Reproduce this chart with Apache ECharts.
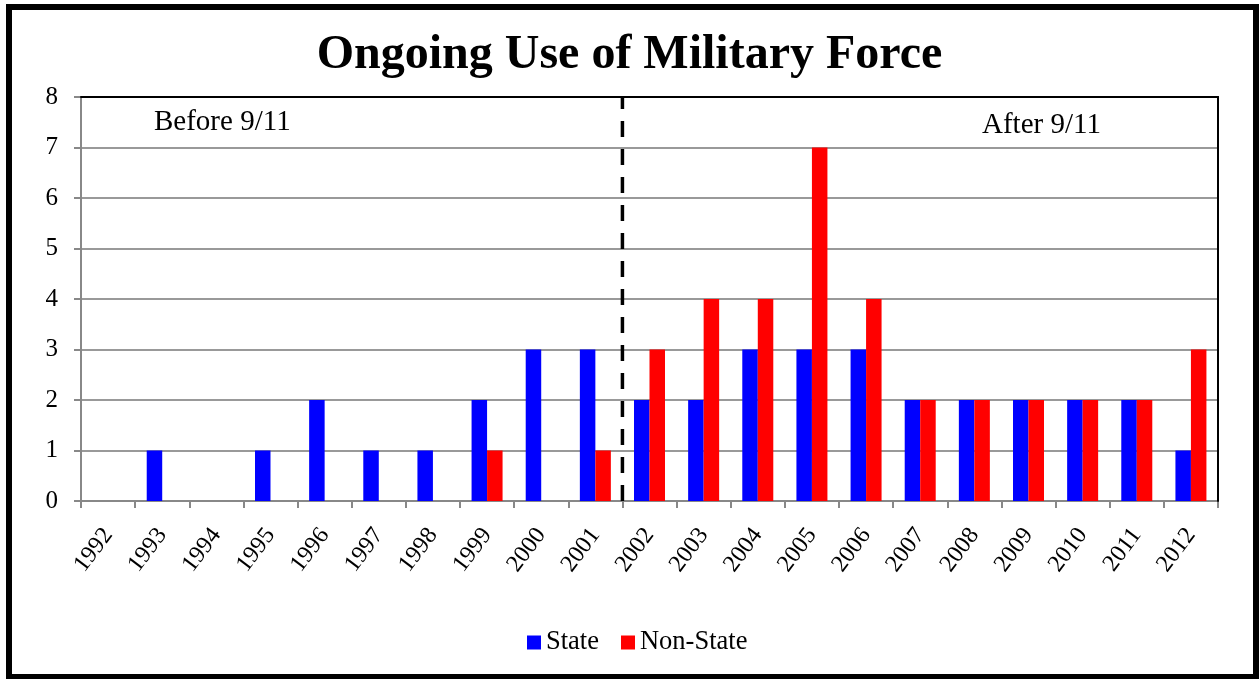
<!DOCTYPE html>
<html>
<head>
<meta charset="utf-8">
<script src="https://cdn.jsdelivr.net/npm/echarts@6/dist/echarts.min.js"></script>
<style>
html,body{margin:0;padding:0;background:#fff;}
#frame{position:absolute;left:6px;top:4px;width:1253px;height:675px;box-sizing:border-box;border:6px solid #000;border-bottom-width:5px;}
#chart{position:absolute;left:0;top:0;width:1259px;height:679px;}
</style>
</head>
<body>
<div id="frame"></div>
<div id="chart"></div>
<script>
const years = ['1992','1993','1994','1995','1996','1997','1998','1999','2000','2001','2002','2003','2004','2005','2006','2007','2008','2009','2010','2011','2012'];
const stateValues    = [0,1,0,1,2,1,1,2,3,3,2,2,3,3,3,2,2,2,2,2,1];
const nonStateValues = [0,0,0,0,0,0,0,1,0,1,3,4,4,7,4,2,2,2,2,2,3];
const yTicks = {min:0, max:8, interval:1};
const dividerIndex = 10; // boundary between 2001 and 2002
const titleText = 'Ongoing Use of Military Force';
const beforeLabel = 'Before 9/11';
const afterLabel = 'After 9/11';

const serif = '"Liberation Serif", "Times New Roman", serif';
const chart = echarts.init(document.getElementById('chart'));
chart.setOption({
  animation:false,
  title:{text:titleText,left:'center',top:27,textStyle:{fontFamily:serif,fontWeight:'bold',fontSize:48,color:'#000'}},
  legend:{data:['State','Non-State'],bottom:18,left:522,itemWidth:14,itemHeight:14,itemGap:22,icon:'rect',
    textStyle:{fontFamily:serif,fontSize:26.5,color:'#000'}},
  grid:{left:81,right:41,top:97,bottom:178,show:true,borderColor:'#000',borderWidth:1.5,backgroundColor:'#fff'},
  xAxis:[{type:'category',data:years,boundaryGap:true,
      axisLine:{lineStyle:{color:'#888',width:2}},
      axisTick:{show:true,length:7,lineStyle:{color:'#888',width:2},alignWithLabel:false},
      axisLabel:{rotate:53,margin:30,fontFamily:serif,fontSize:24,color:'#000',interval:0}},
    {type:'value',min:0,max:years.length,position:'top',z:5,
      axisLine:{show:true,onZero:false,lineStyle:{color:'#000',width:2}},
      axisTick:{show:false},axisLabel:{show:false},splitLine:{show:false}}],
  yAxis:[{type:'value',min:yTicks.min,max:yTicks.max,interval:yTicks.interval,
      axisLine:{show:true,lineStyle:{color:'#888',width:2}},
      axisTick:{show:true,length:7,lineStyle:{color:'#888',width:2}},
      splitLine:{lineStyle:{color:'#999',width:2}},
      axisLabel:{margin:23,fontFamily:serif,fontSize:25,color:'#000'}},
    {type:'value',min:yTicks.min,max:yTicks.max,position:'right',z:5,
      axisLine:{show:true,onZero:false,lineStyle:{color:'#000',width:2}},
      axisTick:{show:false},axisLabel:{show:false},splitLine:{show:false}}],
  series:[
    {name:'State',type:'bar',data:stateValues,barWidth:15.5,barGap:'0%',itemStyle:{color:'#0000ff'}},
    {name:'Non-State',type:'bar',data:nonStateValues,barWidth:15.5,barGap:'0%',itemStyle:{color:'#ff0000'}},
    {name:'divider',type:'line',xAxisIndex:1,data:[[dividerIndex,yTicks.min],[dividerIndex,yTicks.max]],
      symbol:'none',silent:true,z:5,lineStyle:{color:'#000',width:3.5,type:[16,12]}}
  ],
  graphic:[
    {type:'text',left:154,top:108,style:{text:beforeLabel,font:'29px '+serif,fill:'#000'}},
    {type:'text',left:982,top:111,style:{text:afterLabel,font:'29px '+serif,fill:'#000'}}
  ]
});
</script>
</body>
</html>
